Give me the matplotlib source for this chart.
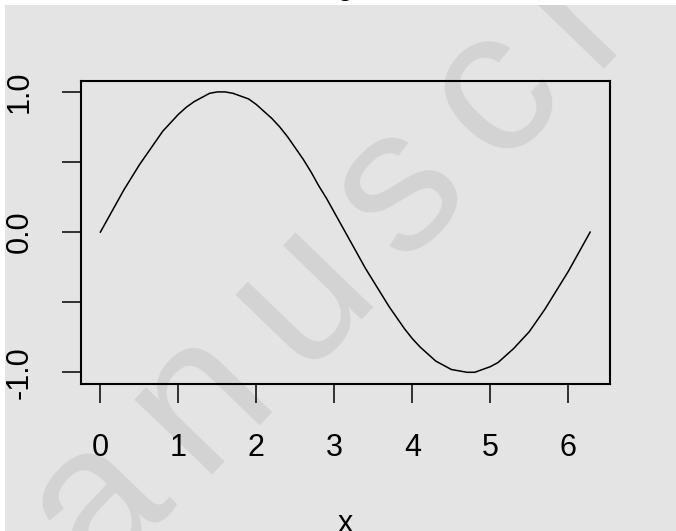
import math
import matplotlib
matplotlib.use("Agg")
import matplotlib.pyplot as plt
from matplotlib.patches import Rectangle

plt.rcParams["font.family"] = ["Liberation Sans", "DejaVu Sans"]

# sin curve
x = [0.0, 0.1, 0.2, 0.3, 0.4, 0.5, 0.6, 0.7, 0.8, 0.9, 1.0, 1.1, 1.2, 1.3,
     1.4, 1.5, 1.6, 1.7, 1.8, 1.9, 2.0, 2.1, 2.2, 2.3, 2.4, 2.5, 2.6, 2.7,
     2.8, 2.9, 3.0, 3.1, 3.2, 3.3, 3.4, 3.5, 3.6, 3.7, 3.8, 3.9, 4.0, 4.1,
     4.2, 4.3, 4.4, 4.5, 4.6, 4.7, 4.8, 4.9, 5.0, 5.1, 5.2, 5.3, 5.4, 5.5,
     5.6, 5.7, 5.8, 5.9, 6.0, 6.1, 6.2, 6.28]
y = [0.00, 0.10, 0.20, 0.30, 0.39, 0.48, 0.56, 0.64, 0.72, 0.78, 0.84,
     0.89, 0.93, 0.96, 0.99, 1.00, 1.00, 0.99, 0.97, 0.95, 0.91, 0.86,
     0.81, 0.75, 0.68, 0.60, 0.52, 0.43, 0.33, 0.24, 0.14, 0.04, -0.06,
     -0.16, -0.26, -0.35, -0.44, -0.53, -0.61, -0.69, -0.76, -0.82, -0.87,
     -0.92, -0.95, -0.98, -0.99, -1.00, -1.00, -0.98, -0.96, -0.93, -0.88,
     -0.83, -0.77, -0.71, -0.63, -0.55, -0.46, -0.37, -0.28, -0.18, -0.08,
     0.00]

xticks = [0, 1, 2, 3, 4, 5, 6]
yticks = [-1.0, -0.5, 0.0, 0.5, 1.0]
ytick_labels = ["-1.0", "", "0.0", "", "1.0"]

WATERMARK = "Manuscript"

BG = "#e4e4e4"
W, H = 676, 531
fig = plt.figure(figsize=(W / 100, H / 100), dpi=100, facecolor="white")

# page background (gray) starting a few px in from top/left
fig.patches.append(Rectangle((5 / W, 0), 1, 1 - 5 / H, transform=fig.transFigure,
                             facecolor=BG, edgecolor="none", zorder=-3))

# letter-spaced watermark behind the plot (Helvetica advance widths, em units)
adv = {"M": .833, "a": .556, "n": .556, "u": .556, "s": .5, "c": .5,
       "r": .333, "i": .222, "p": .556, "t": .278}
em = 205.0          # px
gap = 33.0          # extra tracking, px
ang = 46.0
ux, uy = math.cos(math.radians(ang)), math.sin(math.radians(ang))
x0, y0 = -45.6, H - 727.3   # baseline start, px from bottom-left
d = 0.0
for ch in WATERMARK:
    px, py = x0 + d * ux, y0 + d * uy
    fig.text(px / W, py / H, ch, fontsize=em * 0.72, color="#d3d3d3",
             rotation=ang, rotation_mode="anchor", ha="left", va="baseline",
             zorder=-2)
    d += adv[ch] * em + gap

ax = fig.add_axes([80.8 / W, 147.5 / H, (610 - 80.8) / W, (450.3 - 147.5) / H])
ax.set_facecolor("none")
ax.plot(x, y, color="black", linewidth=1.1, solid_joinstyle="round")

xmin, xmax = 0.0, 6.2832
pad = 0.04 * (xmax - xmin)
ax.set_xlim(xmin - pad, xmax + pad)
ax.set_ylim(-1.08, 1.08)

for s in ax.spines.values():
    s.set_linewidth(1.5)

ax.set_xticks(xticks)
ax.set_xticklabels([str(t) for t in xticks], fontsize=22)
ax.set_yticks(yticks)
ax.set_yticklabels(ytick_labels, fontsize=22, rotation=90, va="center")
ax.tick_params(axis="both", direction="out", length=14, width=1.1, color="black")
ax.tick_params(axis="x", pad=22)
ax.tick_params(axis="y", pad=19)
ax.set_xlabel("x", fontsize=22, labelpad=33)

# cropped title descender at top edge
fig.text(345 / W, 1.0 + 0.011, "g", fontsize=22, ha="center", va="baseline", zorder=11)

# white page margin on top of everything
fig.patches.append(Rectangle((0, 1 - 5 / H), 1, 5 / H, transform=fig.transFigure,
                             facecolor="white", edgecolor="none", zorder=10))
fig.patches.append(Rectangle((0, 0), 5 / W, 1, transform=fig.transFigure,
                             facecolor="white", edgecolor="none", zorder=10))

fig.savefig("out.png", dpi=100, facecolor="white")
